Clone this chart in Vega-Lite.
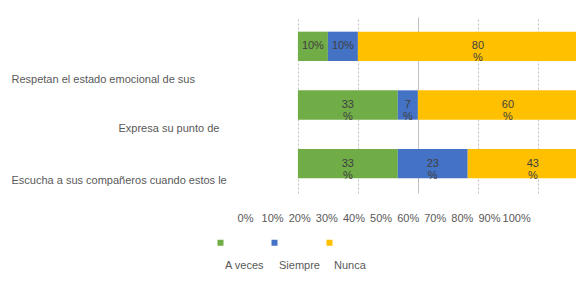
{
  "$schema": "https://vega.github.io/schema/vega-lite/v6.json",
  "autosize": {"type": "none"},
  "padding": {"left": 240, "top": 17, "right": 0, "bottom": 90},
  "width": 336,
  "height": 176,
  "background": "white",
  "config": {"view": {"stroke": null}, "font": "Liberation Sans"},
  "data": {"values": [
    {"item": "Respetan el estado emocional de sus", "resp": "A veces", "orden": 1, "valor": 10, "etiqueta": "10%"},
    {"item": "Respetan el estado emocional de sus", "resp": "Siempre", "orden": 2, "valor": 10, "etiqueta": "10%"},
    {"item": "Respetan el estado emocional de sus", "resp": "Nunca", "orden": 3, "valor": 80, "etiqueta": "80\n%"},
    {"item": "Expresa su punto de", "resp": "A veces", "orden": 1, "valor": 33.3, "etiqueta": "33\n%"},
    {"item": "Expresa su punto de", "resp": "Siempre", "orden": 2, "valor": 6.7, "etiqueta": "7\n%"},
    {"item": "Expresa su punto de", "resp": "Nunca", "orden": 3, "valor": 60, "etiqueta": "60\n%"},
    {"item": "Escucha a sus compañeros cuando estos le", "resp": "A veces", "orden": 1, "valor": 33.3, "etiqueta": "33\n%"},
    {"item": "Escucha a sus compañeros cuando estos le", "resp": "Siempre", "orden": 2, "valor": 23.3, "etiqueta": "23\n%"},
    {"item": "Escucha a sus compañeros cuando estos le", "resp": "Nunca", "orden": 3, "valor": 43.4, "etiqueta": "43\n%"}
  ]},
  "transform": [
    {"stack": "valor", "groupby": ["item"], "sort": [{"field": "orden"}], "as": ["ini", "fin"]},
    {"calculate": "(datum.ini + datum.fin) / 2", "as": "medio"}
  ],
  "layer": [
    {
      "encoding": {
        "y": {
          "field": "item", "type": "nominal", "sort": null, "title": null,
          "scale": {"paddingInner": 0.5, "paddingOuter": 0.25},
          "axis": {
            "ticks": false, "domain": false, "labelAlign": "left", "labelLimit": 0,
            "labelFontSize": 11, "labelColor": "#595959",
            "labelPadding": {"condition": {"test": "datum.value === 'Expresa su punto de'", "value": 122}, "value": 229},
            "labelOffset": {"condition": [
              {"test": "datum.value === 'Respetan el estado emocional de sus'", "value": 34},
              {"test": "datum.value === 'Expresa su punto de'", "value": 24}
            ], "value": 17}
          }
        }
      },
      "layer": [
        {
          "mark": {"type": "bar", "clip": true},
          "encoding": {
            "x": {
              "field": "ini", "type": "quantitative",
              "scale": {"domain": [-19.3, 92.7], "nice": false, "zero": false},
              "axis": {
                "orient": "bottom", "title": null, "values": [0, 10, 20, 30, 40, 50, 60, 70, 80, 90],
                "labels": false, "ticks": false, "domain": false, "grid": true,
                "gridColor": "#c0c0c0",
                "gridDash": {"condition": {"test": "datum.value === 40", "value": []}, "value": [2, 2]}
              }
            },
            "x2": {"field": "fin"},
            "color": {
              "field": "resp", "type": "nominal",
              "scale": {"domain": ["A veces", "Siempre", "Nunca"], "range": ["#70AD47", "#4472C4", "#FFC000"]},
              "legend": {
                "orient": "none", "legendX": -25, "legendY": 220, "direction": "horizontal",
                "title": null, "symbolType": "square", "symbolSize": 36, "symbolStrokeWidth": 0,
                "labelFontSize": 11, "labelColor": "#595959", "labelOffset": -1,
                "columnPadding": 4, "padding": 0,
                "encode": {"labels": {"update": {"dy": {"value": 23}}}}
              }
            }
          }
        },
        {
          "mark": {"type": "text", "lineBreak": "\n", "fontSize": 11, "color": "#404040", "lineHeight": 12},
          "encoding": {
            "x": {"field": "medio", "type": "quantitative"},
            "text": {"field": "etiqueta"}
          }
        }
      ]
    },
    {
      "mark": {"type": "point", "opacity": 0},
      "encoding": {
        "x": {
          "field": "fin", "type": "quantitative",
          "scale": {"domain": [-1.85, 122.1], "nice": false, "zero": false},
          "axis": {
            "orient": "bottom", "title": null, "values": [0, 10, 20, 30, 40, 50, 60, 70, 80, 90, 100],
            "labelExpr": "datum.value + '%'", "grid": false, "ticks": false, "domain": false,
            "labelPadding": 19, "labelFontSize": 11, "labelColor": "#595959",
            "labelFlush": false, "labelOverlap": false
          }
        }
      }
    }
  ],
  "resolve": {"scale": {"x": "independent"}, "axis": {"x": "independent"}}
}
